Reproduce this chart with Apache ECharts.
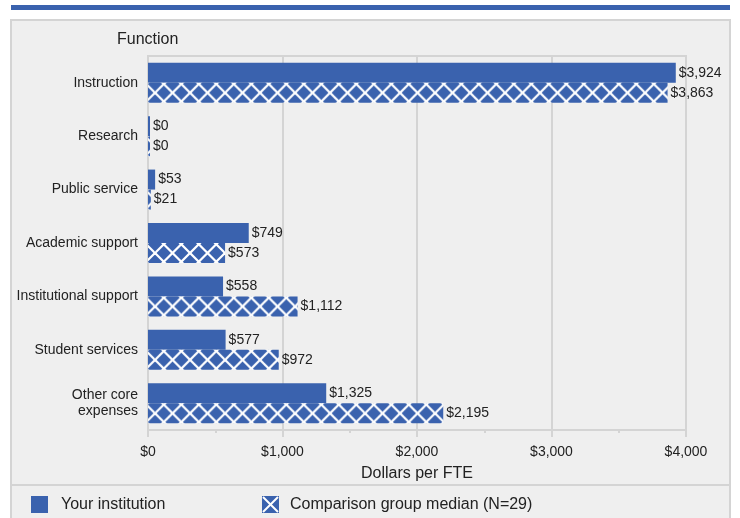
<!DOCTYPE html>
<html>
<head>
<meta charset="utf-8">
<script src="https://cdn.jsdelivr.net/npm/echarts@6/dist/echarts.min.js"></script>
<style>
html,body{margin:0;padding:0;background:#fff;}
#chart{width:740px;height:518px;}
</style>
</head>
<body>
<div id="chart"></div>
<script>
const categories = ['Instruction','Research','Public service','Academic support','Institutional support','Student services','Other core\nexpenses'];
const yourInstitution = [3924, 0, 53, 749, 558, 577, 1325];
const comparisonMedian = [3863, 0, 21, 573, 1112, 972, 2195];
const seriesNames = ['Your institution', 'Comparison group median (N=29)'];
const xTicks = {min: 0, max: 4000, interval: 1000};

const BLUE = '#3a62ae';
const GRAY = '#d4d4d4';
const TXT = '#222';
const FONT = '"Liberation Sans", Arial, sans-serif';

function makeHatch() {
  const c = document.createElement('canvas');
  c.width = 70; c.height = 70;
  const g = c.getContext('2d');
  g.fillStyle = BLUE; g.fillRect(0, 0, 70, 70);
  g.strokeStyle = '#ffffff'; g.lineWidth = 2.2;
  for (let k = -8; k <= 8; k++) {
    const o = k * 17.5;
    g.beginPath(); g.moveTo(o - 5, -5); g.lineTo(o + 75, 75); g.stroke();
    g.beginPath(); g.moveTo(o - 5, 75); g.lineTo(o + 75, -5); g.stroke();
  }
  return c;
}
function makeIcon() {
  const c = document.createElement('canvas');
  c.width = 17; c.height = 17;
  const g = c.getContext('2d');
  g.fillStyle = BLUE; g.fillRect(0, 0, 17, 17);
  g.strokeStyle = '#ffffff'; g.lineWidth = 2;
  g.beginPath(); g.moveTo(1, 1); g.lineTo(16, 16); g.stroke();
  g.beginPath(); g.moveTo(16, 1); g.lineTo(1, 16); g.stroke();
  return c.toDataURL();
}
const hatch = makeHatch();
const money = v => '$' + v.toLocaleString('en-US');

const chart = echarts.init(document.getElementById('chart'), null, {renderer: 'canvas'});

const option = {
  animation: false,
  backgroundColor: '#ffffff',
  textStyle: {fontFamily: FONT},
  graphic: [
    {type: 'rect', z: -100, shape: {x: 11, y: 5, width: 719, height: 5}, style: {fill: BLUE}},
    {type: 'rect', z: -100, shape: {x: 11, y: 20, width: 719, height: 510}, style: {fill: '#efefef', stroke: GRAY, lineWidth: 2}},
    {type: 'line', z: -99, shape: {x1: 11, y1: 485, x2: 730, y2: 485}, style: {stroke: GRAY, lineWidth: 2}}
  ],
  title: {
    text: 'Function', left: 117, top: 32, padding: 0,
    textStyle: {fontSize: 16, fontWeight: 'normal', color: TXT, fontFamily: FONT}
  },
  legend: [
    {
      left: 31, top: 496, padding: 0, itemWidth: 17, itemHeight: 17,
      data: [{name: seriesNames[0], icon: 'rect'}],
      textStyle: {fontSize: 16, color: TXT, fontFamily: FONT, padding: [0, 0, 0, 8]},
      selectedMode: false
    },
    {
      left: 262, top: 496, padding: 0, itemWidth: 17, itemHeight: 17,
      data: [{name: seriesNames[1], icon: 'image://' + makeIcon()}],
      textStyle: {fontSize: 16, color: TXT, fontFamily: FONT, padding: [0, 0, 0, 6]},
      selectedMode: false
    }
  ],
  grid: {
    left: 148, right: 54, top: 56, bottom: 88,
    show: true, backgroundColor: '#efefef', borderColor: GRAY, borderWidth: 2
  },
  xAxis: {
    type: 'value', min: xTicks.min, max: xTicks.max, interval: xTicks.interval,
    name: 'Dollars per FTE', nameLocation: 'middle', nameGap: 36,
    nameTextStyle: {fontSize: 16, color: TXT, fontFamily: FONT},
    axisLine: {show: true, lineStyle: {color: GRAY, width: 2}},
    axisTick: {show: true, length: 7, lineStyle: {color: GRAY, width: 2}},
    minorTick: {show: true, splitNumber: 2, length: 3, lineStyle: {color: GRAY, width: 2}},
    splitLine: {show: true, lineStyle: {color: GRAY, width: 2}},
    axisLabel: {margin: 15, fontSize: 14, color: TXT, fontFamily: FONT, formatter: money}
  },
  yAxis: {
    type: 'category', data: categories, inverse: true,
    axisLine: {show: false}, axisTick: {show: false}, splitLine: {show: false},
    axisLabel: {margin: 10, fontSize: 14, lineHeight: 16, color: TXT, fontFamily: FONT}
  },
  series: [
    {
      name: seriesNames[0], type: 'bar', data: yourInstitution,
      barWidth: 20, barGap: '0%', barMinHeight: 2,
      itemStyle: {color: BLUE},
      label: {show: true, position: 'right', distance: 3, fontSize: 14, color: TXT, fontFamily: FONT, formatter: p => money(p.value)}
    },
    {
      name: seriesNames[1], type: 'bar', data: comparisonMedian,
      barWidth: 20, barGap: '0%', barMinHeight: 2,
      itemStyle: {color: {image: hatch, repeat: 'repeat', x: 155, y: 0}},
      label: {show: true, position: 'right', distance: 3, fontSize: 14, color: TXT, fontFamily: FONT, formatter: p => money(p.value)}
    }
  ]
};
chart.setOption(option);

// align the hatch pattern so a row of crossings runs through each hatched bar's centre
const hatchedData = comparisonMedian.map((v, i) => {
  const cy = chart.convertToPixel({yAxisIndex: 0}, categories[i]);
  return {value: v, itemStyle: {color: {image: hatch, repeat: 'repeat', x: 155, y: cy + 10}}};
});
chart.setOption({series: [{}, {data: hatchedData}]});
</script>
</body>
</html>
